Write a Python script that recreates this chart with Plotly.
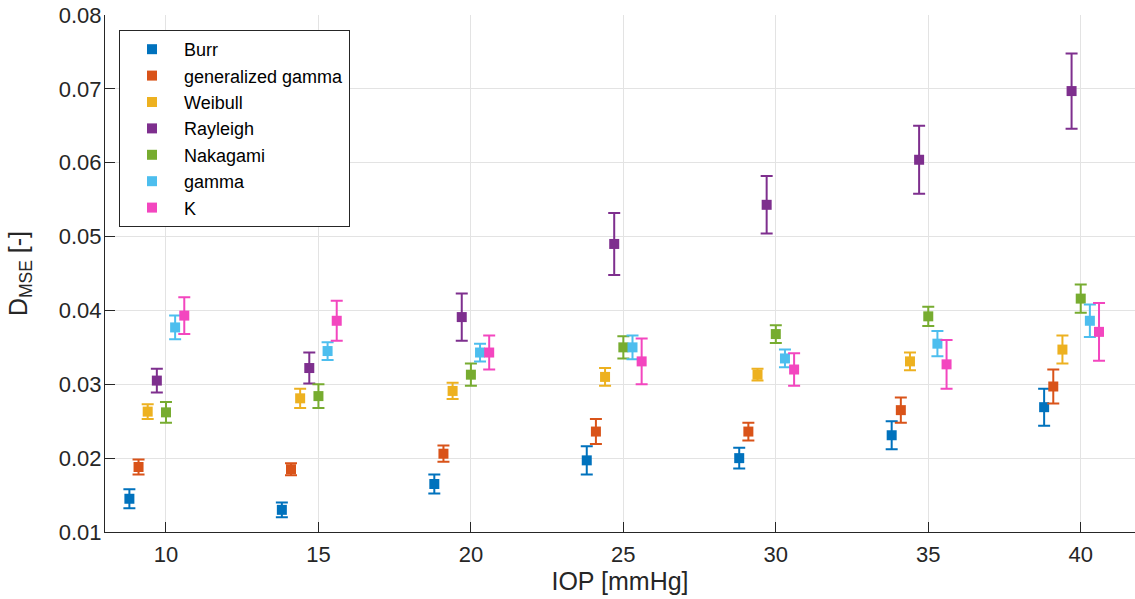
import plotly.graph_objects as go

iop = [10, 15, 20, 25, 30, 35, 40]
names = ["Burr", "generalized gamma", "Weibull", "Rayleigh", "Nakagami", "gamma", "K"]

burr = [0.0145, 0.0130, 0.0165, 0.0197, 0.0200, 0.0231, 0.0269]
burr_err = [0.0013, 0.0010, 0.0013, 0.0019, 0.0014, 0.0019, 0.0025]
gengamma = [0.0188, 0.0185, 0.0206, 0.0236, 0.0236, 0.0265, 0.0297]
gengamma_err = [0.0010, 0.0008, 0.0011, 0.0017, 0.0012, 0.0017, 0.0023]
weibull = [0.0263, 0.0281, 0.0291, 0.0310, 0.0313, 0.0331, 0.0347]
weibull_err = [0.0010, 0.0013, 0.0011, 0.0012, 0.0008, 0.0012, 0.0019]
rayleigh = [0.0305, 0.0322, 0.0391, 0.0490, 0.0543, 0.0604, 0.0697]
rayleigh_err = [0.0016, 0.0021, 0.0032, 0.0042, 0.0039, 0.0046, 0.0051]
nakagami = [0.0262, 0.0284, 0.0313, 0.0350, 0.0368, 0.0392, 0.0416]
nakagami_err = [0.0014, 0.0016, 0.0015, 0.0015, 0.0012, 0.0013, 0.0019]
gamma = [0.0377, 0.0345, 0.0343, 0.0350, 0.0335, 0.0355, 0.0386]
gamma_err = [0.0016, 0.0012, 0.0012, 0.0016, 0.0012, 0.0017, 0.0022]
k_dist = [0.0393, 0.0386, 0.0343, 0.0331, 0.0320, 0.0327, 0.0371]
k_err = [0.0025, 0.0027, 0.0023, 0.0031, 0.0022, 0.0033, 0.0039]

series = [burr, gengamma, weibull, rayleigh, nakagami, gamma, k_dist]
errors = [burr_err, gengamma_err, weibull_err, rayleigh_err, nakagami_err, gamma_err, k_err]

# style: dodge offsets and colors
offsets = [-1.2, -0.9, -0.6, -0.3, 0.0, 0.3, 0.6]
colors = ["#0072BD", "#D95319", "#EDB120", "#7E2F8E", "#77AC30", "#4DBEEE", "#F346BF"]

FONT = "Liberation Sans, Arial, Helvetica, sans-serif"
TXT = "#262626"

fig = go.Figure()
for name, vals, errs, off, col in zip(names, series, errors, offsets, colors):
    fig.add_trace(go.Scatter(
        x=[v + off for v in iop], y=vals, name=name, mode="markers",
        marker=dict(symbol="square", size=10, color=col, line=dict(width=0)),
        error_y=dict(type="data", array=errs, visible=True, color=col,
                     thickness=2, width=6),
    ))

fig.update_layout(
    width=1135, height=599,
    margin=dict(l=105, r=0, t=15, b=67, autoexpand=False),
    plot_bgcolor="white", paper_bgcolor="white",
    font=dict(family=FONT, color=TXT, size=22),
    showlegend=True,
    legend=dict(
        x=0.0136, y=0.971, xanchor="left", yanchor="top",
        bgcolor="white", bordercolor=TXT, borderwidth=1,
        font=dict(family=FONT, size=18, color="#000000"),
        itemwidth=54, tracegroupgap=0,
    ),
    xaxis=dict(
        range=[8, 41.78], tickvals=iop, ticktext=[str(v) for v in iop],
        showgrid=True, gridcolor="#E3E3E3", gridwidth=1,
        showline=True, linecolor=TXT, linewidth=1, mirror=False,
        ticks="inside", ticklen=10, tickcolor=TXT, tickwidth=1,
        tickfont=dict(family=FONT, size=22, color=TXT),
        ticklabelstandoff=3, automargin=False,
        zeroline=False,
        title=dict(text="IOP [mmHg]", font=dict(family=FONT, size=25, color=TXT), standoff=2),
    ),
    yaxis=dict(
        range=[0.01, 0.08], dtick=0.01, tick0=0.01, tickformat=".2f",
        showgrid=True, gridcolor="#E3E3E3", gridwidth=1,
        showline=True, linecolor=TXT, linewidth=1, mirror=False,
        ticks="inside", ticklen=10, tickcolor=TXT, tickwidth=1,
        tickfont=dict(family=FONT, size=22, color=TXT),
        ticklabelstandoff=-2, automargin=False,
        zeroline=False,
        title=dict(text="D<sub>MSE</sub> [-]", font=dict(family=FONT, size=25, color=TXT), standoff=24),
    ),
)

fig.write_html("out.html", config={"displayModeBar": False},
               post_script="document.body.style.margin='0';")
